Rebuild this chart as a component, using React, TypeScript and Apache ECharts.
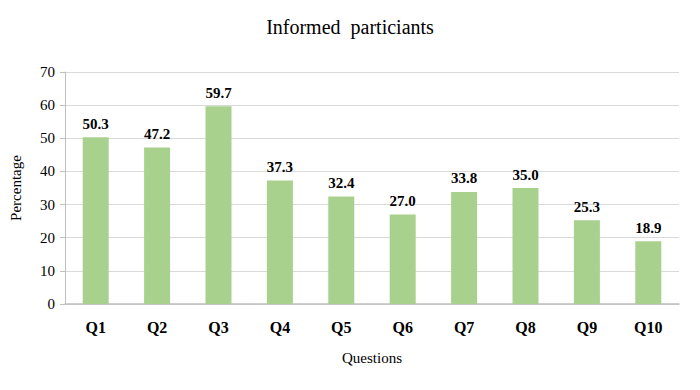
import React, { useEffect, useRef } from "react";
import * as echarts from "echarts";

const categories = ["Q1", "Q2", "Q3", "Q4", "Q5", "Q6", "Q7", "Q8", "Q9", "Q10"];
const values = [50.3, 47.2, 59.7, 37.3, 32.4, 27.0, 33.8, 35.0, 25.3, 18.9];
const yTicks = { min: 0, max: 70, interval: 10 };

const FONT = "'Liberation Serif', 'Times New Roman', serif";

export default function App() {
  const ref = useRef<HTMLDivElement>(null);
  useEffect(() => {
    if (!ref.current) return;
    const chart = echarts.init(ref.current, undefined, { renderer: "svg" });
    chart.setOption({
      animation: false,
      backgroundColor: "#ffffff",
      textStyle: { fontFamily: FONT },
      title: {
        text: "Informed  particiants",
        left: "center",
        top: 12,
        textStyle: { fontFamily: FONT, fontSize: 20, fontWeight: "normal", color: "#000" },
      },
      grid: { left: 63, right: 21, top: 72, bottom: 86, containLabel: false },
      xAxis: {
        type: "category",
        data: categories,
        name: "Questions",
        nameLocation: "middle",
        nameGap: 46,
        nameTextStyle: { fontFamily: FONT, fontSize: 15, color: "#000" },
        axisLine: { lineStyle: { color: "#bfbfbf", width: 1.5 } },
        axisTick: { show: false },
        axisLabel: {
          fontFamily: FONT,
          fontSize: 16,
          fontWeight: "bold",
          color: "#000",
          margin: 15,
        },
      },
      yAxis: {
        type: "value",
        min: yTicks.min,
        max: yTicks.max,
        interval: yTicks.interval,
        name: "Percentage",
        nameLocation: "middle",
        nameGap: 42,
        nameTextStyle: { fontFamily: FONT, fontSize: 15, color: "#000" },
        axisLine: { show: true, lineStyle: { color: "#bfbfbf" } },
        axisTick: { show: true, length: 5, lineStyle: { color: "#bfbfbf" } },
        axisLabel: { fontFamily: FONT, fontSize: 15, color: "#000", margin: 10 },
        splitLine: { lineStyle: { color: "#d9d9d9" } },
      },
      series: [
        {
          type: "bar",
          data: values,
          barWidth: 26,
          itemStyle: { color: "#a9d18e" },
          label: {
            show: true,
            position: "top",
            distance: 6,
            fontFamily: FONT,
            fontSize: 15,
            fontWeight: "bold",
            color: "#000",
            formatter: (p: any) => Number(p.value).toFixed(1),
          },
        },
      ],
    });
    return () => chart.dispose();
  }, []);
  return <div ref={ref} style={{ width: 700, height: 390, margin: -8 }} />;
}
